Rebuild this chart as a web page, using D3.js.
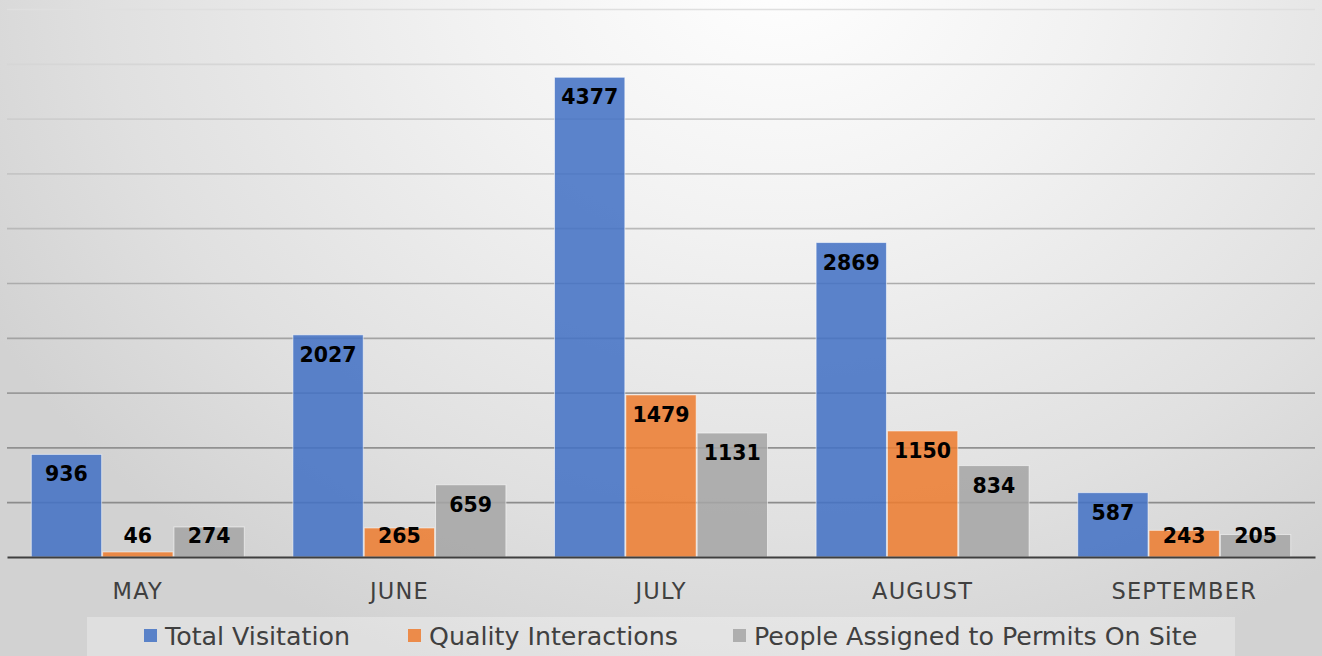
<!DOCTYPE html>
<html><head><meta charset="utf-8">
<script src="https://cdn.jsdelivr.net/npm/d3@7"></script>
<style>html,body{margin:0;padding:0;background:#e6e6e6;overflow:hidden}</style>
</head><body>
<svg id="chart" width="1322" height="656"></svg>
<script>
const months = ["MAY","JUNE","JULY","AUGUST","SEPTEMBER"];
const seriesNames = ["Total Visitation","Quality Interactions","People Assigned to Permits On Site"];
const totalVisitation = [936, 2027, 4377, 2869, 587];
const qualityInteractions = [46, 265, 1479, 1150, 243];
const peopleAssigned = [274, 659, 1131, 834, 205];
const yTicks = [0,500,1000,1500,2000,2500,3000,3500,4000,4500,5000];
const colors = ["#4472C4","#ED7D31","#A5A5A5"];

const seriesValues = [totalVisitation, qualityInteractions, peopleAssigned];
const W = 1322, H = 656;
const svg = d3.select("#chart");
const defs = svg.append("defs");

const bg = defs.append("radialGradient").attr("id","bg")
  .attr("gradientUnits","userSpaceOnUse")
  .attr("cx",780).attr("cy",-40).attr("r",900)
  .attr("gradientTransform","translate(780,-40) scale(1,0.85) translate(-780,40)");
bg.append("stop").attr("offset","0").attr("stop-color","#ffffff");
bg.append("stop").attr("offset","0.35").attr("stop-color","#f2f2f2");
bg.append("stop").attr("offset","0.75").attr("stop-color","#e0e0e0");
bg.append("stop").attr("offset","1").attr("stop-color","#d2d2d2");
svg.append("rect").attr("width",W).attr("height",H).attr("fill","#d4d4d4");
svg.append("rect").attr("width",W).attr("height",H).attr("fill","url(#bg)");

const pLeft = 7, pRight = 1315, pTop = 9, pBase = 557;
const x0 = d3.scaleBand().domain(months).range([pLeft,pRight]).paddingInner(0.182).paddingOuter(0.091);
const x1 = d3.scaleBand().domain(d3.range(3)).range([0, x0.bandwidth()]).padding(0);
const y = d3.scaleLinear().domain([0,5000]).range([pBase, pTop]);
const gridColor = d3.scaleLinear().domain([0, 170, 285, 450, 560])
  .range(["#e0e0e0","#c6c6c6","#acacac","#919191","#878787"]);

// gridlines
const yAxis = d3.axisLeft(y).tickValues(yTicks.slice(1)).tickSize(-(pRight-pLeft)).tickFormat("");
const ga = svg.append("g").attr("transform",`translate(${pLeft},0)`).call(yAxis);
ga.select(".domain").remove();
ga.selectAll(".tick line").attr("stroke", d => gridColor(y(d))).attr("stroke-width",1.7);

// bars
const groups = svg.append("g").selectAll("g").data(months).join("g")
  .attr("transform", d => `translate(${x0(d)},0)`);
groups.selectAll("rect").data((m,i) => seriesValues.map((s,k)=>({k, v:s[i]})))
  .join("rect")
  .attr("x", d => x1(d.k)+0.5)
  .attr("width", x1.bandwidth()-1)
  .attr("y", d => y(d.v))
  .attr("height", d => pBase - y(d.v))
  .attr("fill", d => colors[d.k]).attr("fill-opacity",0.87)
  .attr("stroke","rgba(255,255,255,0.55)").attr("stroke-width",1);

// value labels
groups.selectAll("text").data((m,i) => seriesValues.map((s,k)=>({k, v:s[i]})))
  .join("text")
  .attr("x", d => x1(d.k) + x1.bandwidth()/2)
  .attr("y", d => Math.min(y(d.v)+27, pBase-14))
  .attr("text-anchor","middle")
  .attr("font-family","DejaVu Sans").attr("font-weight","bold").attr("font-size",20.5)
  .attr("fill","#000")
  .text(d => d.v);

// x axis
const xAxis = d3.axisBottom(x0).tickSize(0).tickPadding(0);
const xa = svg.append("g").attr("transform",`translate(0,${pBase})`).call(xAxis);
xa.select(".domain").attr("stroke","#3f3f3f").attr("stroke-width",2.2);
xa.selectAll(".tick text").attr("y",42).attr("dy",0)
  .attr("font-family","DejaVu Sans").attr("font-size",22.5).attr("letter-spacing",1.2)
  .attr("fill","#404040");

// legend
const lg = svg.append("g");
lg.append("rect").attr("x",87).attr("y",617).attr("width",1148).attr("height",45)
  .attr("fill","#ffffff").attr("fill-opacity",0.3);
const legX = [144, 408, 733];
seriesNames.forEach((n,i)=>{
  lg.append("rect").attr("x",legX[i]).attr("y",629).attr("width",13).attr("height",13)
    .attr("fill",colors[i]).attr("fill-opacity",0.86);
  lg.append("text").attr("x",legX[i]+21).attr("y",645)
    .attr("font-family","DejaVu Sans").attr("font-size",25.3).attr("fill","#404040").text(n);
});
</script>
</body></html>
